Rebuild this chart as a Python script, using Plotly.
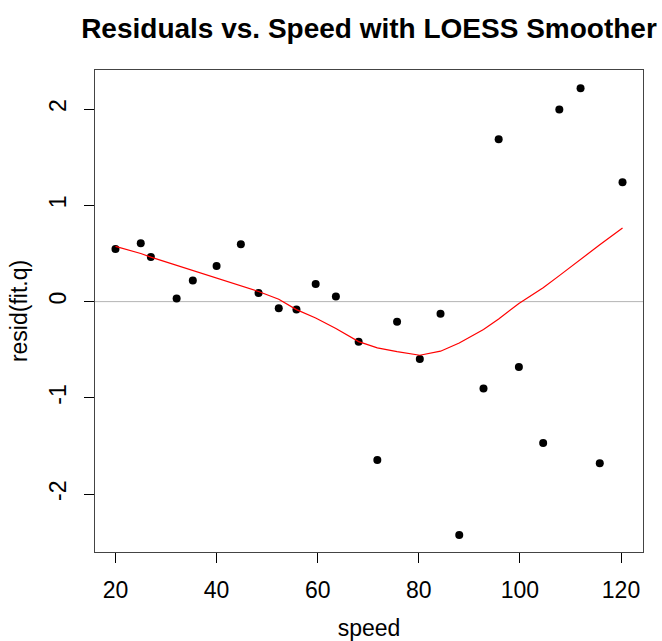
import plotly.graph_objects as go

speed = [20.0, 25.0, 27.0, 32.1, 35.3, 40.0, 44.8, 48.3, 52.3, 55.8, 59.6, 63.6, 68.1,
         71.8, 75.7, 80.2, 84.3, 88.0, 92.8, 95.8, 99.8, 104.6, 107.8, 112.0, 115.8, 120.3]
resid = [0.547, 0.605, 0.464, 0.031, 0.218, 0.371, 0.595, 0.090, -0.070, -0.081, 0.184,
         0.052, -0.418, -1.644, -0.208, -0.595, -0.125, -2.423, -0.903, 1.685, -0.678,
         -1.467, 1.994, 2.215, -1.679, 1.239]
loess = [0.574, 0.50, 0.462, 0.376, 0.323, 0.244, 0.165, 0.105, 0.025, -0.083, -0.17, -0.28,
         -0.415, -0.48, -0.52, -0.557, -0.515, -0.43, -0.29, -0.18, -0.02, 0.145, 0.27, 0.44,
         0.59, 0.765]

xticks = [20, 40, 60, 80, 100, 120]
yticks = [-2, -1, 0, 1, 2]

FONT = "Liberation Sans, Arial, Helvetica, sans-serif"

fig = go.Figure()
fig.add_hline(y=0, line=dict(color="#b4b4b4", width=1), layer="below")
fig.add_trace(go.Scatter(x=speed, y=resid, mode="markers",
                         marker=dict(color="black", size=8), showlegend=False))
fig.add_trace(go.Scatter(x=speed, y=loess, mode="lines",
                         line=dict(color="red", width=1.2), showlegend=False))

fig.update_layout(
    width=662, height=641,
    margin=dict(l=95, r=19, t=70, b=89, autoexpand=False),
    plot_bgcolor="white", paper_bgcolor="white",
    font=dict(family=FONT, color="black", size=23),
    title=dict(text="<b>Residuals vs. Speed with LOESS Smoother</b>",
               font=dict(size=28, family=FONT, color="black"),
               x=(95 + 643) / 2 / 662, xanchor="center",
               y=1 - 28 / 641, yanchor="middle", yref="container"),
    xaxis=dict(range=[15.95, 124.35], tickvals=xticks, ticktext=[str(t) for t in xticks],
               showgrid=False, zeroline=False, showline=True, linecolor="#444",
               linewidth=1, mirror=True, ticks="outside", ticklen=10, tickcolor="black",
               tickfont=dict(size=23), ticklabelstandoff=7, automargin=False,
               title=dict(text="speed", font=dict(size=23), standoff=18)),
    yaxis=dict(range=[-2.6, 2.405], tickvals=yticks, ticktext=[str(t) for t in yticks],
               showgrid=False, zeroline=False, showline=True, linecolor="#444",
               linewidth=1, mirror=True, ticks="outside", ticklen=10, tickcolor="black",
               tickangle=-90, tickfont=dict(size=23), ticklabelstandoff=9, automargin=False,
               title=dict(text="resid(fit.q)", font=dict(size=23), standoff=10)),
)

fig.write_html("out.html")
